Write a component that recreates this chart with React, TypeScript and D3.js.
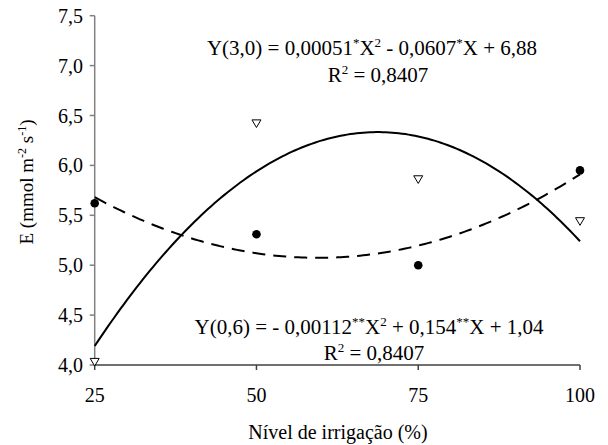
import React from "react";
import * as d3 from "d3";

const xLevels = [25, 50, 75, 100];
const circleValues = [5.62, 5.31, 5.0, 5.95];
const triangleValues = [4.03, 6.42, 5.86, 5.44];
const coefDashed = [0.00051, -0.0607, 6.88];
const coefSolid = [-0.00112, 0.154, 1.04];
const yTicks = [4.0, 4.5, 5.0, 5.5, 6.0, 6.5, 7.0, 7.5];
const xTicks = [25, 50, 75, 100];

const W = 608;
const H = 445;
const FONT = '"Liberation Serif", "Times New Roman", serif';

export default function App() {
  const x = d3.scaleLinear().domain([25, 100]).range([94.7, 580]);
  const y = d3.scaleLinear().domain([4.0, 7.5]).range([365, 15.7]);
  const xs = d3.range(25, 100.01, 0.5);
  const quad = (c: number[]) => (v: number) => c[0] * v * v + c[1] * v + c[2];
  const fD = quad(coefDashed);
  const fS = quad(coefSolid);
  const dashedPath = d3
    .line<number>()
    .x((d) => x(d))
    .y((d) => y(fD(d)))(xs);
  const solidPath = d3
    .line<number>()
    .x((d) => x(d))
    .y((d) => y(fS(d)))(xs);
  const fs = 20;
  const efs = 21;
  const sup = 13;
  const tri = (cx: number, cy: number) => {
    const s = 4.5;
    return `M${cx - s},${cy - s * 0.8} L${cx + s},${cy - s * 0.8} L${cx},${cy + s * 0.9} Z`;
  };
  const ts = { fontFamily: FONT };

  return (
    <svg width={W} height={H} style={{ position: "absolute", left: 0, top: 0, background: "#fff" }}>
      <rect width={W} height={H} fill="#fff" />
      <line x1={x(25)} x2={x(25)} y1={y(7.5)} y2={y(4.0)} stroke="#808080" strokeWidth={1.5} />
      <line x1={x(25)} x2={x(100)} y1={y(4.0)} y2={y(4.0)} stroke="#404040" strokeWidth={1.5} />
      {yTicks.map((t) => (
        <g key={t}>
          <line x1={x(25) - 5} x2={x(25)} y1={y(t)} y2={y(t)} stroke="#808080" strokeWidth={1.5} />
          <text style={ts} x={83} y={y(t)} dy="0.35em" textAnchor="end" fontSize={fs}>
            {t.toFixed(1).replace(".", ",")}
          </text>
        </g>
      ))}
      {xTicks.map((t) => (
        <g key={t}>
          <line x1={x(t)} x2={x(t)} y1={y(4.0)} y2={y(4.0) + 5} stroke="#404040" strokeWidth={1.5} />
          <text style={ts} x={x(t)} y={y(4.0) + 37} textAnchor="middle" fontSize={fs}>
            {t}
          </text>
        </g>
      ))}
      <text style={ts} x={338} y={439} textAnchor="middle" fontSize={fs}>
        Nível de irrigação (%)
      </text>
      <text style={ts} transform={`translate(33,182) rotate(-90)`} textAnchor="middle" fontSize={19}>
        E (mmol m
        <tspan fontSize={12} dy={-7}>-2</tspan>
        <tspan dy={7}> s</tspan>
        <tspan fontSize={12} dy={-7}>-1</tspan>
        <tspan dy={7}>)</tspan>
      </text>
      <path d={dashedPath || ""} fill="none" stroke="#000" strokeWidth={2} strokeDasharray="13,8" />
      <path d={solidPath || ""} fill="none" stroke="#000" strokeWidth={2} />
      {xLevels.map((lv, i) => (
        <circle key={"c" + i} cx={x(lv)} cy={y(circleValues[i])} r={4.3} fill="#000" />
      ))}
      {xLevels.map((lv, i) => (
        <path key={"t" + i} d={tri(x(lv), y(triangleValues[i]))} fill="#fff" stroke="#000" strokeWidth={1} />
      ))}
      <text style={ts} x={372} y={55} textAnchor="middle" fontSize={efs}>
        Y(3,0) = 0,00051
        <tspan fontSize={sup} dy={-8}>*</tspan>
        <tspan dy={8}>X</tspan>
        <tspan fontSize={sup} dy={-8}>2</tspan>
        <tspan dy={8}> - 0,0607</tspan>
        <tspan fontSize={sup} dy={-8}>*</tspan>
        <tspan dy={8}>X + 6,88</tspan>
      </text>
      <text style={ts} x={378} y={82} textAnchor="middle" fontSize={efs}>
        R<tspan fontSize={sup} dy={-8}>2</tspan>
        <tspan dy={8}> = 0,8407</tspan>
      </text>
      <text style={ts} x={369} y={334} textAnchor="middle" fontSize={efs}>
        Y(0,6) = - 0,00112
        <tspan fontSize={sup} dy={-8}>**</tspan>
        <tspan dy={8}>X</tspan>
        <tspan fontSize={sup} dy={-8}>2</tspan>
        <tspan dy={8}> + 0,154</tspan>
        <tspan fontSize={sup} dy={-8}>**</tspan>
        <tspan dy={8}>X + 1,04</tspan>
      </text>
      <text style={ts} x={374} y={360} textAnchor="middle" fontSize={efs}>
        R<tspan fontSize={sup} dy={-8}>2</tspan>
        <tspan dy={8}> = 0,8407</tspan>
      </text>
    </svg>
  );
}
